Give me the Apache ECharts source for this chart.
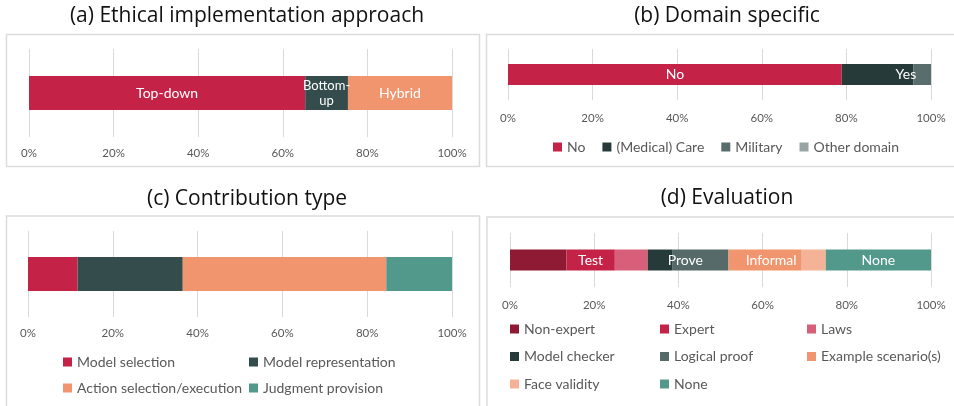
<!DOCTYPE html>
<html lang="en">
<head>
    <meta charset="UTF-8">
    <title>Ethics survey</title>
    <script src="https://cdn.jsdelivr.net/npm/echarts@6/dist/echarts.min.js"></script>
    <style>
        html, body {margin: 0; padding: 0; background: #fff;}
        #main {width: 954px; height: 406px;}
    </style>
</head>
<body>
<div id="main"></div>
<script>
    /*数据 (percent of papers)*/
    var implNames = ['Top-down', 'Bottom-up', 'Hybrid'];
    var implValues = [65.3, 10.1, 24.6];

    var domainNames = ['No', '(Medical) Care', 'Military', 'Other domain'];
    var domainValues = [78.9, 16.9, 4.2, 0];

    var contribNames = ['Model selection', 'Model representation', 'Action selection/execution', 'Judgment provision'];
    var contribValues = [11.7, 24.8, 48.0, 15.5];

    var evalNames = ['Non-expert', 'Expert', 'Laws', 'Model checker', 'Logical proof', 'Example scenario(s)', 'Face validity', 'None'];
    var evalValues = [13.4, 11.5, 7.8, 5.8, 13.4, 17.4, 5.7, 25.0];

    var tickValues = [0, 20, 40, 60, 80, 100];
    var panelTitles = ['(a) Ethical implementation approach', '(b) Domain specific', '(c) Contribution type', '(d) Evaluation'];

    var implColors = ['#c42246', '#344c4c', '#f0956e'];
    var domainColors = ['#c42246', '#263a39', '#5a6d6d', '#98a4a3'];
    var contribColors = ['#c42246', '#344c4c', '#f0956e', '#52998c'];
    var evalColors = ['#8f1a33', '#c42246', '#d75f79', '#263a39', '#566a6a', '#f0956e', '#f4b396', '#52998c'];

    // segment labels, keyed by series name
    var segLabels = {
        'Top-down': {text: 'Top-down'},
        'Bottom-up': {text: 'Bottom-\nup', size: 13},
        'Hybrid': {text: 'Hybrid'},
        'No': {text: 'No'},
        '(Medical) Care': {text: 'Yes', position: 'insideRight', offset: [8, 0]},
        'Expert': {text: 'Test'},
        'Logical proof': {text: 'Prove', offset: [-15, 0]},
        'Example scenario(s)': {text: 'Informal', offset: [6, 0]},
        'None': {text: 'None'}
    };

    var uiFont = 'Lato';
    var grey = '#595959';
    var gridLine = '#d9d9d9';

    var grids = [
        {left: 29, width: 423, top: 49, height: 88},
        {left: 508, width: 423, top: 49, height: 51},
        {left: 28, width: 424, top: 231, height: 86},
        {left: 510, width: 421, top: 233, height: 54}
    ];
    var barW = [34, 21, 34, 21];
    var labelMargin = [10, 12, 10, 12];

    var xAxes = [], yAxes = [], series = [];
    var panels = [
        [implNames, implValues, implColors],
        [domainNames, domainValues, domainColors],
        [contribNames, contribValues, contribColors],
        [evalNames, evalValues, evalColors]
    ];

    panels.forEach(function (p, i) {
        xAxes.push({
            type: 'value', gridIndex: i, min: tickValues[0], max: tickValues[tickValues.length - 1],
            interval: tickValues[1] - tickValues[0],
            axisLine: {show: false}, axisTick: {show: false},
            splitLine: {show: true, lineStyle: {color: gridLine, width: 1}},
            axisLabel: {color: grey, fontFamily: uiFont, fontSize: 11.5, margin: labelMargin[i], formatter: '{value}%'}
        });
        yAxes.push({
            type: 'category', gridIndex: i, data: [''],
            axisLine: {show: false}, axisTick: {show: false}, axisLabel: {show: false}
        });
        p[0].forEach(function (name, k) {
            var lab = segLabels[name];
            series.push({
                name: name,
                type: 'bar',
                stack: 'g' + i,
                xAxisIndex: i,
                yAxisIndex: i,
                barWidth: barW[i],
                itemStyle: {color: p[2][k]},
                label: {
                    show: !!lab,
                    position: lab && lab.position ? lab.position : 'inside',
                    offset: lab && lab.offset ? lab.offset : [0, 0],
                    formatter: lab ? lab.text : '',
                    color: '#fff',
                    fontFamily: uiFont,
                    fontSize: lab && lab.size ? lab.size : 14,
                    lineHeight: 15
                },
                emphasis: {disabled: true},
                data: [p[1][k]]
            });
        });
    });

    var legendText = {color: grey, fontFamily: uiFont, fontSize: 14};
    function legendCol(names, left, top, gap) {
        return {
            data: names, orient: 'vertical', left: left, top: top, itemGap: gap,
            icon: 'rect', itemWidth: 9, itemHeight: 9, textStyle: legendText,
            selectedMode: false, padding: 0
        };
    }

    var legends = [
        {
            data: domainNames, orient: 'horizontal', left: 553, top: 140, itemGap: 17,
            icon: 'rect', itemWidth: 9, itemHeight: 9, textStyle: legendText,
            selectedMode: false, padding: 0
        },
        legendCol([contribNames[0], contribNames[2]], 63, 355, 12),
        legendCol([contribNames[1], contribNames[3]], 249, 355, 12),
        legendCol([evalNames[0], evalNames[3], evalNames[6]], 510, 322, 13.5),
        legendCol([evalNames[1], evalNames[4], evalNames[7]], 660, 322, 13.5),
        legendCol([evalNames[2], evalNames[5]], 807, 322, 13.5)
    ];

    var titleFont = {color: '#111', fontFamily: 'Open Sans', fontSize: 21, fontWeight: 'normal'};
    var titles = [
        {text: panelTitles[0], left: 242, top: 1, textAlign: 'center', textStyle: titleFont},
        {text: panelTitles[1], left: 722, top: 1, textAlign: 'center', textStyle: titleFont},
        {text: panelTitles[2], left: 242, top: 184, textAlign: 'center', textStyle: titleFont},
        {text: panelTitles[3], left: 722, top: 183, textAlign: 'center', textStyle: titleFont}
    ];

    var frameStyle = {fill: 'none', stroke: '#dcdcdc', lineWidth: 1.5};
    var frames = [
        {type: 'rect', shape: {x: 6.5, y: 34.5, width: 473, height: 132}, style: frameStyle, silent: true},
        {type: 'rect', shape: {x: 486.5, y: 34.5, width: 480, height: 132}, style: frameStyle, silent: true},
        {type: 'rect', shape: {x: 6.5, y: 216, width: 473, height: 200}, style: frameStyle, silent: true},
        {type: 'rect', shape: {x: 487, y: 217, width: 480, height: 200}, style: frameStyle, silent: true}
    ];

    var myChart = echarts.init(document.getElementById('main'), null, {renderer: 'canvas'});
    myChart.setOption({
        backgroundColor: '#fff',
        animation: false,
        title: titles,
        graphic: frames,
        grid: grids,
        xAxis: xAxes,
        yAxis: yAxes,
        legend: legends,
        tooltip: {show: false},
        series: series
    });
</script>
</body>
</html>
